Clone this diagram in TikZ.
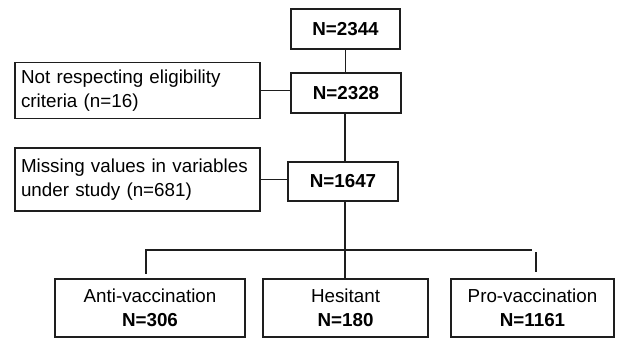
\documentclass[tikz,border=0pt]{standalone}
\usepackage{fontspec}
\setmainfont{Liberation Sans}
\definecolor{ink}{HTML}{1E1E1E}
\tikzset{
  box/.style={draw=ink, line width=1.2pt, inner sep=0pt, text=black,
    font=\fontsize{18.8}{24}\selectfont},
  numbox/.style={box, font=\fontsize{18.8}{24}\selectfont\bfseries,
    minimum width=#1, minimum height=40pt},
  exclbox/.style={box, text width=233pt, inner xsep=6pt, align=left,
    minimum height=#1},
  groupbox/.style={box, align=center, minimum width=#1, minimum height=58pt},
  link/.style={draw=ink, line width=1.2pt}
}
\begin{document}
\begin{tikzpicture}[x=1pt,y=-1pt]
\useasboundingbox[fill=white] (0,0) rectangle (618,339);

% main column
\node[numbox=109pt] (n2344) at (345.5,29) {N=2344};
\node[numbox=110pt] (n2328) at (346,93) {N=2328};
\node[numbox=110pt, minimum height=39pt] (n1647) at (343,181.5) {N=1647};

% exclusion boxes
\node[exclbox=56pt] (ex1) at (137.5,90.5) {Not respecting eligibility\\criteria (n=16)};
\node[exclbox=63pt] (ex2) at (137.5,179.5) {Missing values in variables\\under study (n=681)};

% groups
\node[groupbox=190pt] (anti) at (150,308) {Anti-vaccination\\\textbf{N=306}};
\node[groupbox=165pt] (hes) at (345.5,308) {Hesitant\\\textbf{N=180}};
\node[groupbox=163pt] (pro) at (532.5,308) {Pro-vaccination\\\textbf{N=1161}};

% connectors in main column
\draw[link] (n2344.south) -- (n2344.south |- n2328.north);
\draw[link] (n2328.south -| 345,0) -- (345,0 |- n1647.north);
\draw[link] (ex1.east) -- (ex1.east -| n2328.west);
\draw[link] (ex2.east) -- (ex2.east -| n1647.west);

% splitter
\coordinate (split) at (345,250);
\coordinate (spL) at (146,250);
\coordinate (spR) at (532,250);
\coordinate (antiTop) at (146,274);
\coordinate (proTopA) at (536,252);
\coordinate (proTopB) at (536,272);
\draw[link] (n1647.south -| split) -- (split) -- (split |- hes.north);
\draw[link] (spR) -- (spL) -- (antiTop);
\draw[link] (proTopA) -- (proTopB);
\end{tikzpicture}
\end{document}
